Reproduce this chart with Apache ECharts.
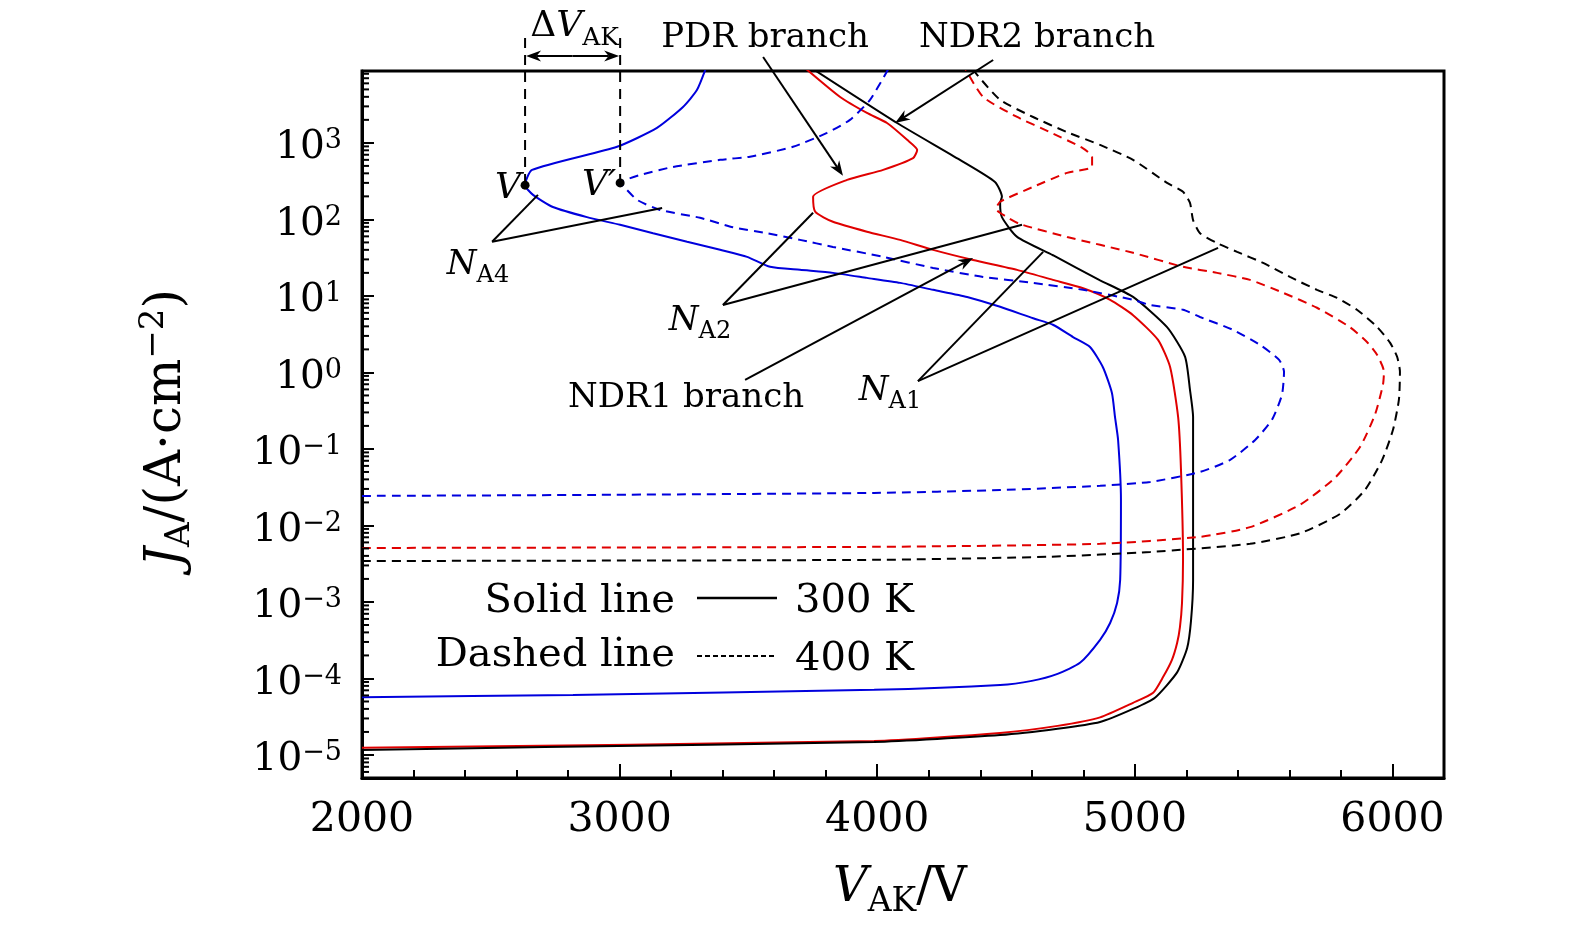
<!DOCTYPE html>
<html><head><meta charset="utf-8">
<script src="https://cdn.jsdelivr.net/npm/echarts@6/dist/echarts.min.js"></script>
<style>html,body{margin:0;padding:0;background:#fff}#c{width:1575px;height:935px}</style>
</head><body><div id="c"></div>
<script>
// ---------- data (V_AK in volts, J_A in A/cm^2) ----------
const blueSolidV = [2000,2819,3988,4477,4600,4700,4787,4865,4904,4931,4943,4946,4935,4923,4911,4876,4826,4760,4682,4605,4477,4349,4217,4089,3960,3828,3700,3584,3495,3390,3262,3130,3002,2873,2741,2664,2633,2660,2990,3145,3246,3300,3335];
const blueSolidJ = [5.7e-5,6.1e-5,7.1e-5,8.2e-5,9.3e-5,1.15e-4,1.6e-4,3.2e-4,5.3e-4,9.7e-4,1.95e-3,0.0215,0.13,0.26,0.54,1.17,2.15,2.9,4.2,5.1,7.2,9.7,12,14.8,17.2,20,21.9,24,32.4,40,51,66,85,107,145,209,280,444,890,1570,2950,4900,9500];

const redSolidV = [2000,3988,4477,4700,4865,4993,5071,5110,5144,5164,5175,5183,5187,5179,5168,5137,5090,4993,4904,4799,4682,4543,4372,4217,4089,3960,3828,3759,3751,3883,4023,4139,4155,4116,4038,3960,3856,3720];
const redSolidJ = [1.24e-5,1.52e-5,1.94e-5,2.4e-5,3.1e-5,4.8e-5,6.5e-5,1.05e-4,1.75e-4,2.9e-4,4.7e-4,9.7e-4,3.6e-3,0.054,0.26,1.17,2.66,5.6,8.9,12.6,16.2,21.9,29.5,40,54,69,93,126,197,328,444,631,809,1096,1820,2460,3980,9500];

const blackSolidV = [2000,2710,3988,4477,4700,4865,4993,5078,5164,5203,5218,5226,5226,5226,5214,5195,5125,4993,4865,4682,4543,4484,4477,4484,4457,4321,4077,3745];
const blackSolidJ = [1.16e-5,1.27e-5,1.48e-5,1.82e-5,2.2e-5,2.7e-5,4.0e-5,5.6e-5,1.2e-4,2.5e-4,5.7e-4,1.9e-3,0.054,0.26,0.59,1.6,3.9,9.7,16,34,59,107,164,197,309,600,1820,9500];

const blueDashV = [2000,2924,3988,4477,4865,5059,5253,5370,5467,5532,5571,5579,5560,5486,5381,5253,5187,5059,4993,4799,4605,4411,4217,4023,3828,3700,3572,3440,3312,3157,3068,3013,3002,3079,3207,3390,3506,3673,3805,3894,3972,4045];
const blueDashJ = [0.0243,0.0251,0.0266,0.029,0.033,0.037,0.050,0.072,0.131,0.24,0.51,1.02,1.46,2.29,3.6,5.3,6.6,7.6,8.9,12,14.8,17.7,23.2,32.4,43.7,54,66,79,105,133,180,275,300,380,485,600,660,890,1350,2000,3650,9500];

const redDashV = [2000,3988,4865,5253,5447,5641,5777,5874,5932,5963,5967,5940,5901,5835,5707,5575,5447,5319,5187,4993,4737,4554,4496,4461,4477,4605,4737,4834,4834,4799,4671,4543,4411,4340];
const redDashJ = [5.08e-3,5.25e-3,5.75e-3,7.1e-3,9.5e-3,0.0186,0.042,0.106,0.28,0.69,1.02,1.7,2.5,3.9,7.0,11,16.2,20,24,36.6,59,87,111,137,170,266,405,485,656,850,1380,2180,3980,9500];

const blackDashV = [2000,3988,4671,5059,5447,5641,5796,5893,5960,6002,6025,6029,6018,5991,5940,5862,5785,5707,5602,5498,5397,5319,5253,5226,5214,5187,5125,4993,4865,4737,4605,4477,4387,4370];
const blackDashJ = [3.43e-3,3.55e-3,3.9e-3,4.5e-3,5.75e-3,7.9e-3,0.0141,0.029,0.072,0.178,0.44,1.02,1.6,2.43,3.94,6.6,9.4,12,17.7,27,37.6,49,66,98,164,229,300,600,940,1380,2180,3650,7800,9500];

const xMajorTicks = [2000,3000,4000,5000,6000];
const xMinorTicks = [2200,2400,2600,2800,3200,3400,3600,3800,4200,4400,4600,4800,5200,5400,5600,5800];
const yMin = 5e-6, yMax = 8700;

// annotation anchors (data space)
const pointV = [2633, 280];
const pointVp = [3002, 300];

// ---------- chart ----------
const FF = 'DejaVu Serif';
const BLUE = '#0000dd', RED = '#e00000', BLACK = '#000000';
const chart = echarts.init(document.getElementById('c'), null, {renderer: 'canvas'});

function zip(a, b) { return a.map((v, i) => [v, b[i]]); }
function mkSeries(name, V, J, color, dashed) {
  return {
    name, type: 'line', data: zip(V, J), showSymbol: false, symbol: 'none',
    clip: true, smooth: 0.2, animation: false, z: 5,
    lineStyle: {color, width: 2, type: dashed ? [9, 6] : 'solid'}
  };
}
function supLabel(v) {
  const l = Math.log10(v); const e = Math.round(l);
  if (Math.abs(l - e) > 1e-6) return '';
  return '{b|10}{s|' + (e < 0 ? '\u2212' + (-e) : String(e)) + '}';
}

chart.setOption({
  animation: false,
  backgroundColor: '#fff',
  grid: {left: 362, right: 131, top: 71, bottom: 157, show: true, borderColor: '#000', borderWidth: 3, backgroundColor: 'transparent'},
  xAxis: [{
    type: 'value', min: 2000, max: 6200,
    axisLine: {lineStyle: {color: '#000', width: 3}},
    axisTick: {inside: true, length: 14, lineStyle: {color: '#000', width: 2}, customValues: xMajorTicks},
    axisLabel: {customValues: xMajorTicks, color: '#000', fontFamily: FF, fontSize: 41, margin: 22,
      formatter: v => String(Math.round(v))},
    splitLine: {show: false}
  }, {
    type: 'value', min: 2000, max: 6200, position: 'bottom',
    axisLine: {show: false},
    axisTick: {inside: true, length: 8, lineStyle: {color: '#000', width: 2}, customValues: xMinorTicks},
    axisLabel: {show: false}, splitLine: {show: false}
  }],
  yAxis: [{
    type: 'log', logBase: 10, min: yMin, max: yMax,
    axisLine: {show: true, lineStyle: {color: '#000', width: 3}},
    axisTick: {show: true, inside: true, length: 12, lineStyle: {color: '#000', width: 2}},
    axisLabel: {
      color: '#000', margin: 20, formatter: supLabel, padding: [10, 0, 0, 0],
      rich: {
        b: {fontFamily: FF, fontSize: 39, lineHeight: 40, color: '#000'},
        s: {fontFamily: FF, fontSize: 27, lineHeight: 27, verticalAlign: 'top', color: '#000'}
      }
    },
    splitLine: {show: false}, minorTick: {show: false}
  }],
  series: [
    mkSeries('blueSolid', blueSolidV, blueSolidJ, BLUE, false),
    mkSeries('redSolid', redSolidV, redSolidJ, RED, false),
    mkSeries('blackSolid', blackSolidV, blackSolidJ, BLACK, false),
    mkSeries('blueDash', blueDashV, blueDashJ, BLUE, true),
    mkSeries('redDash', redDashV, redDashJ, RED, true),
    mkSeries('blackDash', blackDashV, blackDashJ, BLACK, true)
  ]
});

// ---------- annotations ----------
function P(v, j) { return chart.convertToPixel({xAxisIndex: 0, yAxisIndex: 0}, [v, j]); }
const G = [];
function line(a, b, opt) {
  G.push({type: 'line', z: 100, shape: {x1: a[0], y1: a[1], x2: b[0], y2: b[1]},
    style: Object.assign({stroke: '#000', lineWidth: 2}, opt || {})});
}
function arrow(from, tip) {
  const dx = tip[0] - from[0], dy = tip[1] - from[1], d = Math.hypot(dx, dy);
  const ux = dx / d, uy = dy / d, px = -uy, py = ux, len = 15, half = 5.5;
  const bx = tip[0] - ux * len, by = tip[1] - uy * len;
  const nx = tip[0] - ux * len * 0.7, ny = tip[1] - uy * len * 0.7;
  line(from, [nx, ny]);
  G.push({type: 'polygon', z: 101, shape: {points: [tip, [bx + px * half, by + py * half], [nx, ny], [bx - px * half, by - py * half]]}, style: {fill: '#000'}});
}
const TY = 3; // small baseline correction for text placement
function text(x, y, str, opt) {
  G.push({type: 'text', z: 102, x, y: y + TY, style: Object.assign({text: str, fill: '#000', fontFamily: FF, fontSize: 34, align: 'center', verticalAlign: 'middle'}, opt || {})});
}
const subRich = (main, sub, L) => ({
  i: {fontFamily: FF, fontStyle: 'italic', fontSize: main, lineHeight: L, fill: '#000'},
  r: {fontFamily: FF, fontSize: main, lineHeight: L, fill: '#000'},
  s: {fontFamily: FF, fontSize: sub, lineHeight: sub, verticalAlign: 'bottom', fill: '#000'},
  u: {fontFamily: FF, fontSize: sub, lineHeight: sub, verticalAlign: 'top', fill: '#000'}
});

// V and V' points with Delta V_AK bracket
const pV = P(pointV[0], pointV[1]), pVp = P(pointVp[0], pointVp[1]);
line([pV[0], 38], pV, {lineDash: [10, 7]});
line([pVp[0], 38], pVp, {lineDash: [10, 7]});
const aY = 56;
arrow([(pV[0] + pVp[0]) / 2, aY], [pV[0] + 1, aY]);
arrow([(pV[0] + pVp[0]) / 2, aY], [pVp[0] - 1, aY]);
G.push({type: 'circle', z: 103, shape: {cx: pV[0], cy: pV[1], r: 4.5}, style: {fill: '#000'}});
G.push({type: 'circle', z: 103, shape: {cx: pVp[0], cy: pVp[1], r: 4.5}, style: {fill: '#000'}});
text((pV[0] + pVp[0]) / 2 + 2, 24, '{r|\u0394}{i|V}{s|AK}', {rich: subRich(36, 25, 48)});
text(pV[0] - 4, pV[1], 'V', {align: 'right', fontStyle: 'italic', fontSize: 36});
text(pVp[0] - 4, pVp[1], 'V\u2032', {align: 'right', fontStyle: 'italic', fontSize: 36});

// PDR / NDR2 branch arrows
text(765, 35, 'PDR branch');
arrow([P(3557, 1)[0], 57], P(3867, 371));
text(1037, 35, 'NDR2 branch');
arrow([P(4450, 1)[0], 60], P(4069, 1820));

// N_A4
const vA4 = P(2505, 51);
line(vA4, P(2683, 209)); line(vA4, P(3165, 141));
text(478, 262, '{i|N}{s|A4}', {rich: subRich(34, 24, 46)});
// N_A2
const vA2 = P(3401, 7.6);
line(vA2, P(3751, 122)); line(vA2, P(4562, 85));
text(700, 318, '{i|N}{s|A2}', {rich: subRich(34, 24, 46)});
// NDR1 branch
text(686, 395, 'NDR1 branch');
arrow(P(3487, 0.80), P(4372, 31.4));
// N_A1
const vA1 = P(4158, 0.77);
line(vA1, P(4644, 37.6)); line(vA1, P(5323, 42.4));
text(890, 388, '{i|N}{s|A1}', {rich: subRich(34, 24, 46)});

// legend
text(675, 599, 'Solid line', {align: 'right', fontSize: 40});
line([697, 598], [777, 598], {lineWidth: 2.5});
text(795, 599, '300 K', {align: 'left', fontSize: 40});
text(675, 653, 'Dashed line', {align: 'right', fontSize: 40});
line([697, 656], [777, 656], {lineWidth: 2, lineDash: [5, 3]});
text(795, 657, '400 K', {align: 'left', fontSize: 40});

// y minor ticks (log 2..9)
for (let d = -6; d <= 3; d++) {
  for (let k = 2; k <= 9; k++) {
    const v = k * Math.pow(10, d);
    if (v <= yMin || v >= yMax) continue;
    const p = P(2000, v);
    line([p[0], p[1]], [p[0] + 7, p[1]], {lineWidth: 2});
  }
}

// axis titles
text(900, 886, '{i|V}{s|AK}{r|/V}', {rich: subRich(48, 33, 59)});
G.push({type: 'text', z: 102, x: 167, y: 428, rotation: Math.PI / 2,
  style: {text: '{i|J}{s|A}{r|/(A\u00b7cm}{u|\u22122}{r|)}', align: 'center', verticalAlign: 'middle', rich: subRich(50, 34, 60)}});

chart.setOption({graphic: G});
</script>
</body></html>
